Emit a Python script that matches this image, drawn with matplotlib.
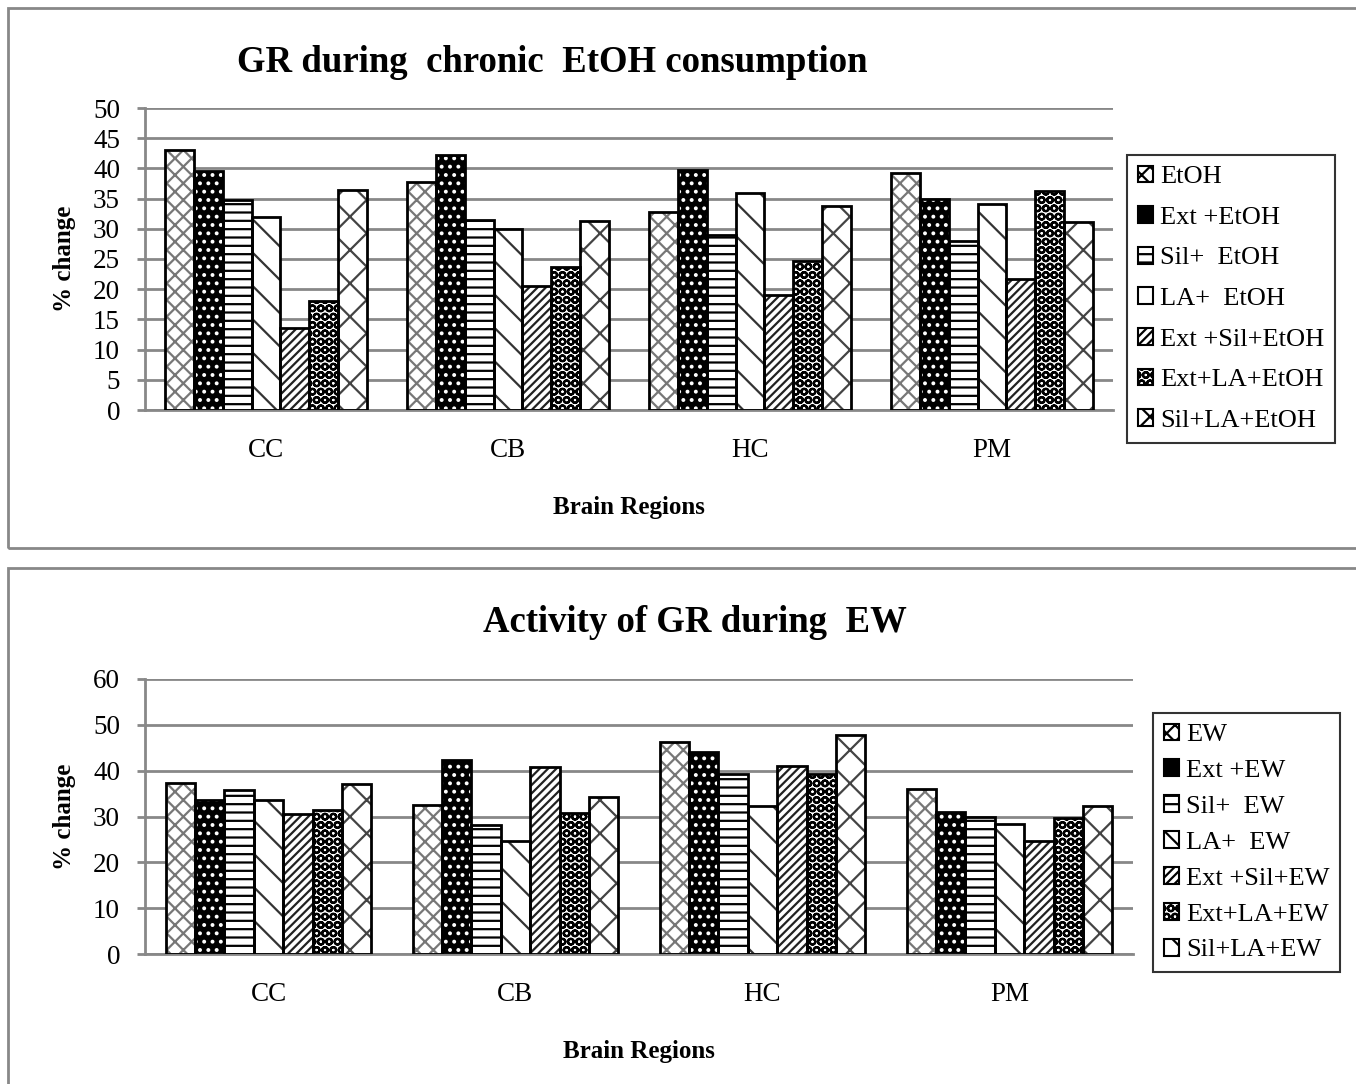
import numpy as np
import matplotlib.pyplot as plt
from matplotlib.patches import Rectangle, Patch

plt.rcParams['font.family'] = ['Liberation Serif', 'DejaVu Serif']
plt.rcParams['hatch.linewidth'] = 1.6

regions = ['CC', 'CB', 'HC', 'PM']

# top chart: chronic EtOH
etoh_labels = ['EtOH', 'Ext +EtOH', 'Sil+  EtOH', 'LA+  EtOH',
               'Ext +Sil+EtOH', 'Ext+LA+EtOH', 'Sil+LA+EtOH']
etoh_vals = [
    [43.0, 37.7, 32.8, 39.3],   # EtOH
    [39.5, 42.3, 39.8, 35.0],   # Ext +EtOH
    [34.8, 31.5, 29.0, 28.0],   # Sil+ EtOH
    [32.0, 30.0, 36.0, 34.1],   # LA+ EtOH
    [13.5, 20.5, 19.0, 21.7],   # Ext+Sil+EtOH
    [18.0, 23.7, 24.7, 36.3],   # Ext+LA+EtOH
    [36.5, 31.3, 33.7, 31.1],   # Sil+LA+EtOH
]

# bottom chart: EW
ew_labels = ['EW', 'Ext +EW', 'Sil+  EW', 'LA+  EW',
             'Ext +Sil+EW', 'Ext+LA+EW', 'Sil+LA+EW']
ew_vals = [
    [37.3, 32.5, 46.2, 35.9],
    [33.5, 42.3, 44.0, 31.0],
    [35.7, 28.2, 39.3, 30.0],
    [33.5, 24.7, 32.4, 28.4],
    [30.5, 40.7, 41.0, 24.6],
    [31.5, 30.8, 39.3, 29.7],
    [37.0, 34.3, 47.7, 32.2],
]

# style per series: (face, hatch, hatch colour)
styles = [
    ('white', 'xx', '#777777'),
    ('black', '..', 'white'),
    ('white', '--', 'black'),
    ('white', '\\', '#333333'),
    ('white', '////', '#222222'),
    ('white', 'OO', 'black'),
    ('white', 'x', '#444444'),
]

fig = plt.figure(figsize=(13.56, 10.84), dpi=100)

# panel borders
fig.patches.append(Rectangle((8/1356, 1-548/1084), 1.1, 540/1084, transform=fig.transFigure,
                             fill=False, edgecolor='#888888', lw=2))
fig.patches.append(Rectangle((8/1356, 1-1090/1084), 1.1, 522/1084, transform=fig.transFigure,
                             fill=False, edgecolor='#888888', lw=2))


def draw(ax, vals, labels, ymax, step, title, title_xy, leg_box, leg_space):
    x = np.arange(len(regions))
    n = len(vals)
    w = 0.119
    for i, v in enumerate(vals):
        face, hatch, hc = styles[i]
        pos = x + (i - (n - 1) / 2) * w
        ax.bar(pos, v, w, color=face, edgecolor=hc, hatch=hatch, lw=0, zorder=2)
        ax.bar(pos, v, w, facecolor='none', edgecolor='black', lw=2, zorder=3)
    ax.set_xlim(-0.5, len(regions) - 0.5)
    ax.set_ylim(0, ymax)
    ax.set_yticks(np.arange(0, ymax + 1, step))
    ax.yaxis.grid(True, color='#888888', lw=2)
    ax.set_axisbelow(True)
    for s in ['top', 'right']:
        ax.spines[s].set_visible(False)
    for s in ['left', 'bottom']:
        ax.spines[s].set_color('#888888')
        ax.spines[s].set_linewidth(2)
    ax.tick_params(axis='y', labelsize=19.5, color='#888888', width=2, length=6, pad=12)
    ax.tick_params(axis='x', labelsize=19.5, length=0, pad=20)
    ax.set_xticks(x)
    ax.set_xticklabels(regions)
    ax.set_xlabel('Brain Regions', fontsize=18, fontweight='bold', labelpad=24)
    ax.set_ylabel('% change', fontsize=18, fontweight='bold', labelpad=12)
    fig.text(title_xy[0], title_xy[1], title,
             ha='center', va='center', fontsize=26.5, fontweight='bold')
    handles = []
    for i in range(n):
        face, hatch, hc = styles[i]
        handles.append(Patch(facecolor=face, edgecolor='black', hatch=hatch, lw=1.5))
    leg = fig.legend(handles, labels, loc='upper left', bbox_to_anchor=leg_box,
                     fontsize=19, frameon=True, fancybox=False, edgecolor='black',
                     handlelength=0.6, handleheight=0.6, handletextpad=0.25,
                     labelspacing=leg_space, borderpad=0.4, borderaxespad=0)
    leg.get_frame().set_linewidth(1.5)


ax1 = fig.add_axes([145/1356, 1-410/1084, 968/1356, 302/1084])
draw(ax1, etoh_vals, etoh_labels, 50, 5, 'GR during  chronic  EtOH consumption',
     (552/1356, 1-62/1084), (1127/1356, 1-155/1084), 0.68)

ax2 = fig.add_axes([145/1356, 1-954/1084, 988/1356, 275/1084])
draw(ax2, ew_vals, ew_labels, 60, 10, 'Activity of GR during  EW',
     (695/1356, 1-622/1084), (1153/1356, 1-713/1084), 0.5)

fig.savefig('out.png', dpi=100)
